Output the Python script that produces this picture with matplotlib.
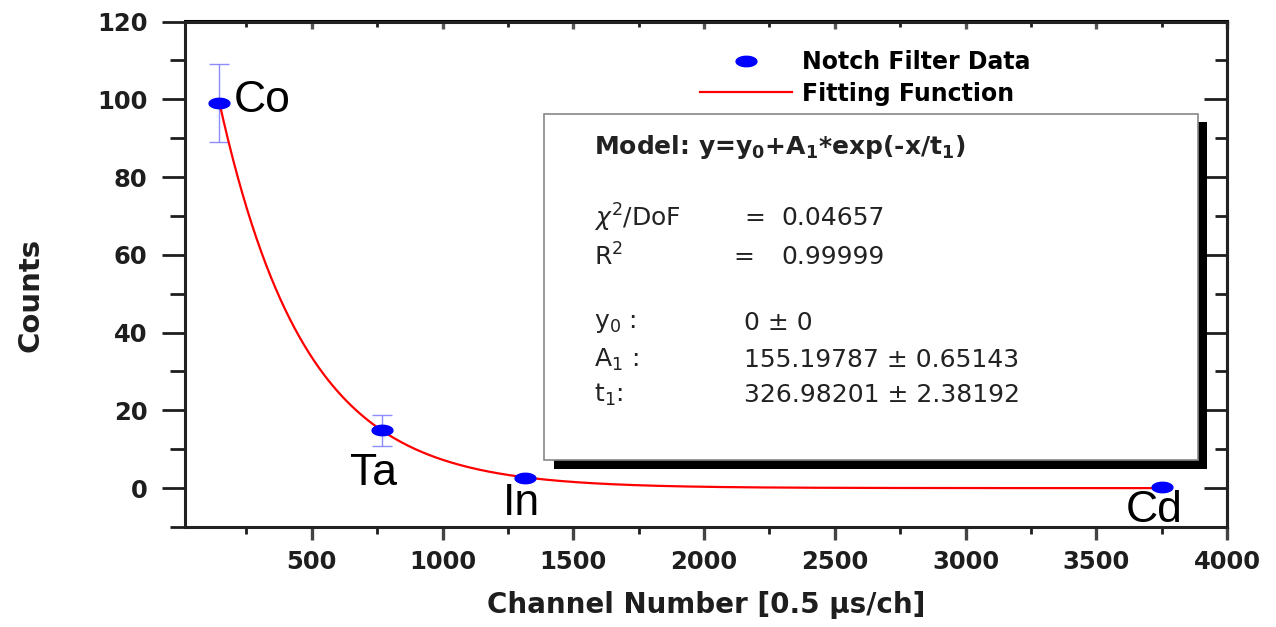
import numpy as np
import matplotlib.pyplot as plt
from matplotlib.path import Path
from matplotlib.patches import Rectangle
from matplotlib.ticker import MultipleLocator

W, H, DPI = 1276, 627, 100

# measured peaks
elements = ["Co", "Ta", "In", "Cd"]
channel = [145, 767, 1315, 3751]
counts = [99.0, 14.9, 2.7, 0.2]
count_err = [10.0, 4.0, 0.4, 0.3]

# exponential fit y = y0 + A1*exp(-x/t1)
y0, y0_err = 0, 0
A1, A1_err = 155.19787, 0.65143
t1, t1_err = 326.98201, 2.38192
chi2_dof = 0.04657
r2 = 0.99999

# label offsets (pixels) relative to each point
label_off = [(15, -9), (-32, -55), (-22, -37), (-36, -35)]


def fx(px):
    return px / W


def fy(py):
    return 1 - py / H


plt.rcParams['font.family'] = ['DejaVu Sans']
plt.rcParams['mathtext.fontset'] = 'dejavusans'

fig = plt.figure(figsize=(W / DPI, H / DPI), dpi=DPI)
ax = fig.add_axes([fx(185), fy(527), fx(1227) - fx(185), fy(21.5) - fy(527)])

# flattened ellipse marker
th = np.linspace(0, 2 * np.pi, 60)
ellipse = Path(np.column_stack([np.cos(th), 0.5 * np.sin(th)]), closed=True)

xfit = np.linspace(channel[0], channel[-1], 400)
yfit = y0 + A1 * np.exp(-xfit / t1)

ax.errorbar(channel, counts, yerr=count_err, fmt='none', ecolor='#8c8cff',
            elinewidth=1, capsize=7, capthick=1, zorder=2)
h_fit, = ax.plot(xfit, yfit, color='red', lw=1.6, zorder=3, label='Fitting Function')
h_pts, = ax.plot(channel, counts, ls='none', marker=ellipse, ms=15, color='blue',
                 mec='blue', zorder=4, label='Notch Filter Data')

for name, x, y, (dx, dy) in zip(elements, channel, counts, label_off):
    ax.annotate(name, xy=(x, y), xytext=(dx, dy), textcoords='offset pixels',
                ha='left', va='baseline', fontsize=32, family='Liberation Sans',
                color='black', zorder=6)

ax.set_xlim(15, 4000)
ax.set_ylim(-10, 120)
ax.xaxis.set_minor_locator(MultipleLocator(250))
ax.yaxis.set_minor_locator(MultipleLocator(10))
ax.set_xticks(np.arange(500, 4001, 500))
ax.set_yticks(np.arange(0, 121, 20))

tick_col = '#1e1e1e'
for s in ax.spines.values():
    s.set_linewidth(2.2)
    s.set_color('#222222')

ax.tick_params(axis='y', which='major', direction='out', length=16.5, width=2.0,
               color=tick_col, pad=10.5, labelsize=17.5, labelcolor=tick_col)
ax.tick_params(axis='y', which='minor', direction='out', length=11, width=2.0, color=tick_col)
ax.tick_params(axis='x', which='major', direction='out', length=9.5, width=2.4,
               color='#444444', pad=7, labelsize=17.5, labelcolor=tick_col)
ax.tick_params(axis='x', which='minor', direction='out', length=5, width=2.0, color=tick_col)
for lab in ax.get_xticklabels() + ax.get_yticklabels():
    lab.set_fontweight('bold')

top = ax.secondary_xaxis('top')
top.xaxis.set_major_locator(MultipleLocator(500))
top.xaxis.set_minor_locator(MultipleLocator(250))
top.tick_params(which='major', direction='in', length=6, width=2.4, color='#555555', labeltop=False)
top.tick_params(which='minor', direction='in', length=4, width=2.0, color=tick_col)
top.spines['top'].set_linewidth(2.2)

right = ax.secondary_yaxis('right')
right.yaxis.set_major_locator(MultipleLocator(20))
right.yaxis.set_minor_locator(MultipleLocator(10))
right.tick_params(which='major', direction='in', length=16.5, width=2.0, color=tick_col, labelright=False)
right.tick_params(which='minor', direction='in', length=8.5, width=2.0, color=tick_col)
right.spines['right'].set_linewidth(2.2)

fig.text(fx(706), fy(605), 'Channel Number [0.5 \u03bcs/ch]', ha='center', va='center',
         fontsize=20, fontweight='bold', color=tick_col)
fig.text(fx(31), fy(295), 'Counts', ha='center', va='center', rotation=90,
         fontsize=21, fontweight='bold', color=tick_col)

ax.legend(handles=[h_pts, h_fit], loc='upper left', bbox_to_anchor=(fx(700), fy(50)),
          bbox_transform=fig.transFigure, frameon=False, numpoints=1,
          prop=dict(family='DejaVu Sans', weight='bold', size=17),
          handlelength=3.9, handletextpad=0.42, labelspacing=0.32,
          borderpad=0, borderaxespad=0)

# results box with drop shadow
ax.add_patch(Rectangle((fx(554), fy(469)), fx(1207) - fx(554), fy(122) - fy(469),
                       transform=fig.transFigure, facecolor='black', edgecolor='none',
                       clip_on=False, zorder=7))
ax.add_patch(Rectangle((fx(544), fy(460)), fx(1198) - fx(544), fy(114) - fy(460),
                       transform=fig.transFigure, facecolor='white', edgecolor='#888888',
                       lw=1.2, clip_on=False, zorder=8))

txt = dict(transform=fig.transFigure, va='center', ha='left', fontsize=18,
           color='#222222', zorder=9)
ax.text(fx(594), fy(147), r'Model: y=y$_\mathbf{0}$+A$_\mathbf{1}$*exp(-x/t$_\mathbf{1}$)',
        fontweight='bold', **txt)
ax.text(fx(594), fy(218), r'$\chi^2$/DoF', **txt)
ax.text(fx(744), fy(218), '=', **txt)
ax.text(fx(781), fy(218), f'{chi2_dof:.5f}', **txt)
ax.text(fx(594), fy(257), r'R$^2$', **txt)
ax.text(fx(733), fy(257), '=', **txt)
ax.text(fx(781), fy(257), f'{r2:.5f}', **txt)
ax.text(fx(594), fy(323), r'y$_0$ :', **txt)
ax.text(fx(744), fy(323), f'{y0} \u00b1 {y0_err}', **txt)
ax.text(fx(594), fy(360), r'A$_1$ :', **txt)
ax.text(fx(744), fy(360), f'{A1:.5f} \u00b1 {A1_err:.5f}', **txt)
ax.text(fx(594), fy(395), r't$_1$:', **txt)
ax.text(fx(744), fy(395), f'{t1:.5f} \u00b1 {t1_err:.5f}', **txt)

fig.savefig('out.png', dpi=DPI)
